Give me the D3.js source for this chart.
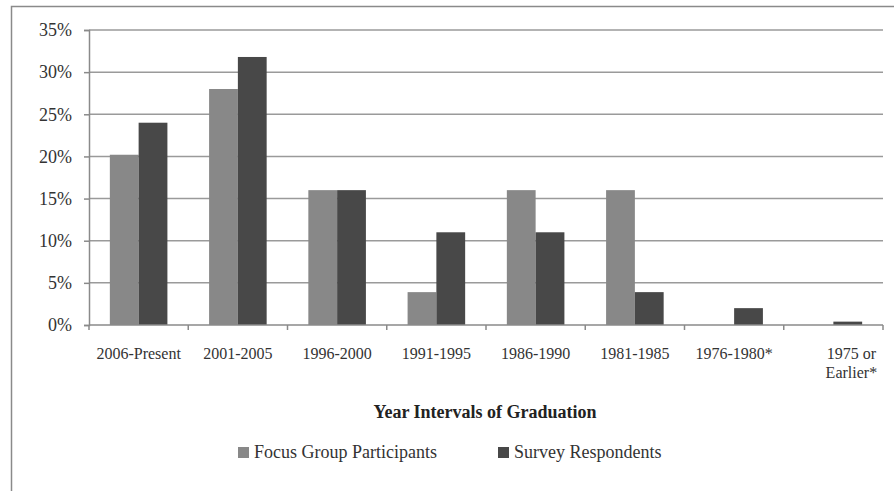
<!DOCTYPE html>
<html>
<head>
<meta charset="utf-8">
<script src="https://cdn.jsdelivr.net/npm/d3@7"></script>
<style>
  body { margin: 0; background: #fff; }
  svg { display: block; font-family: "Liberation Serif", "DejaVu Serif", serif; }
</style>
</head>
<body>
<div id="chart"></div>
<script>
// Data
const categories = ["2006-Present", "2001-2005", "1996-2000", "1991-1995", "1986-1990", "1981-1985", "1976-1980*", "1975 or Earlier*"];
const seriesNames = ["Focus Group Participants", "Survey Respondents"];
const focusValues = [20.2, 28, 16, 3.9, 16, 16, 0, 0];
const surveyValues = [24, 31.8, 16, 11, 11, 3.9, 2, 0.4];
const yTicks = [0, 5, 10, 15, 20, 25, 30, 35];

const colors = ["#888888", "#484848"];

const width = 894, height = 491;
const margin = { top: 30, right: 11, bottom: 166, left: 89 };

const svg = d3.select("#chart").append("svg")
    .attr("width", width)
    .attr("height", height);

// outer frame (cut by image edges on right/bottom)
svg.append("rect")
    .attr("x", 11.5).attr("y", 6.5)
    .attr("width", 900).attr("height", 500)
    .attr("fill", "none")
    .attr("stroke", "#8a8a8a")
    .attr("stroke-width", 1.5);

const x0 = d3.scaleBand()
    .domain(categories)
    .range([margin.left, width - margin.right])
    .paddingInner(0.42)
    .paddingOuter(0.21);

const x1 = d3.scaleBand()
    .domain(seriesNames)
    .range([0, x0.bandwidth()]);

const y = d3.scaleLinear()
    .domain([0, 35])
    .range([height - margin.bottom, margin.top]);

// gridlines
svg.append("g")
    .selectAll("line")
    .data(yTicks.filter(t => t > 0))
    .join("line")
    .attr("x1", margin.left)
    .attr("x2", width - margin.right)
    .attr("y1", d => y(d))
    .attr("y2", d => y(d))
    .attr("stroke", "#9a9a9a")
    .attr("stroke-width", 1.5);

// bars
const rows = categories.map((c, i) => ({ cat: c, vals: [focusValues[i], surveyValues[i]] }));
const groups = svg.append("g")
    .selectAll("g")
    .data(rows)
    .join("g")
    .attr("transform", d => `translate(${x0(d.cat)},0)`);

groups.selectAll("rect")
    .data(d => d.vals.map((v, j) => ({ name: seriesNames[j], v, j })))
    .join("rect")
    .attr("x", d => x1(d.name))
    .attr("width", x1.bandwidth())
    .attr("y", d => y(d.v))
    .attr("height", d => y(0) - y(d.v))
    .attr("fill", d => colors[d.j]);

// y axis
const yAxis = svg.append("g")
    .attr("transform", `translate(${margin.left},0)`)
    .call(d3.axisLeft(y).tickValues(yTicks).tickFormat(d => d + "%").tickSize(5).tickPadding(12));
yAxis.select(".domain").attr("stroke", "#8a8a8a").attr("stroke-width", 1.5);
yAxis.selectAll(".tick line").attr("stroke", "#8a8a8a").attr("stroke-width", 1.5);
yAxis.selectAll(".tick text")
    .attr("font-size", 18)
    .attr("font-family", "Liberation Serif, serif")
    .attr("fill", "#333");

// x axis
const xStep = x0.step();
const xAxisG = svg.append("g").attr("transform", `translate(0,${y(0)})`);
xAxisG.append("line")
    .attr("x1", margin.left).attr("x2", width - margin.right)
    .attr("stroke", "#8a8a8a").attr("stroke-width", 1.5);
xAxisG.selectAll("line.tick")
    .data(d3.range(categories.length + 1))
    .join("line")
    .attr("class", "tick")
    .attr("x1", i => margin.left + i * xStep)
    .attr("x2", i => margin.left + i * xStep)
    .attr("y1", 0).attr("y2", 5)
    .attr("stroke", "#8a8a8a").attr("stroke-width", 1.5);

const labelLines = c => c === "1975 or Earlier*" ? ["1975 or", "Earlier*"] : [c];
xAxisG.selectAll("text")
    .data(categories)
    .join("text")
    .attr("text-anchor", "middle")
    .attr("font-size", 16)
    .attr("fill", "#333")
    .each(function (c) {
        const t = d3.select(this);
        labelLines(c).forEach((ln, k) => {
            t.append("tspan")
                .attr("x", x0(c) + x0.bandwidth() / 2 + (labelLines(c).length > 1 ? 18 : 0))
                .attr("y", 34 + k * 19)
                .text(ln);
        });
    });

// axis title
svg.append("text")
    .attr("x", (margin.left + width - margin.right) / 2 - 1)
    .attr("y", 418)
    .attr("text-anchor", "middle")
    .attr("font-size", 18)
    .attr("font-weight", "bold")
    .attr("fill", "#222")
    .text("Year Intervals of Graduation");

// legend
const legendX = [238, 498];
const legend = svg.append("g")
    .selectAll("g")
    .data(seriesNames)
    .join("g")
    .attr("transform", (d, i) => `translate(${legendX[i]},458)`);
legend.append("rect")
    .attr("x", 0).attr("y", -11)
    .attr("width", 11).attr("height", 11)
    .attr("fill", (d, i) => colors[i]);
legend.append("text")
    .attr("x", 16)
    .attr("y", 0)
    .attr("font-size", 18)
    .attr("fill", "#333")
    .text(d => d);
</script>
</body>
</html>
